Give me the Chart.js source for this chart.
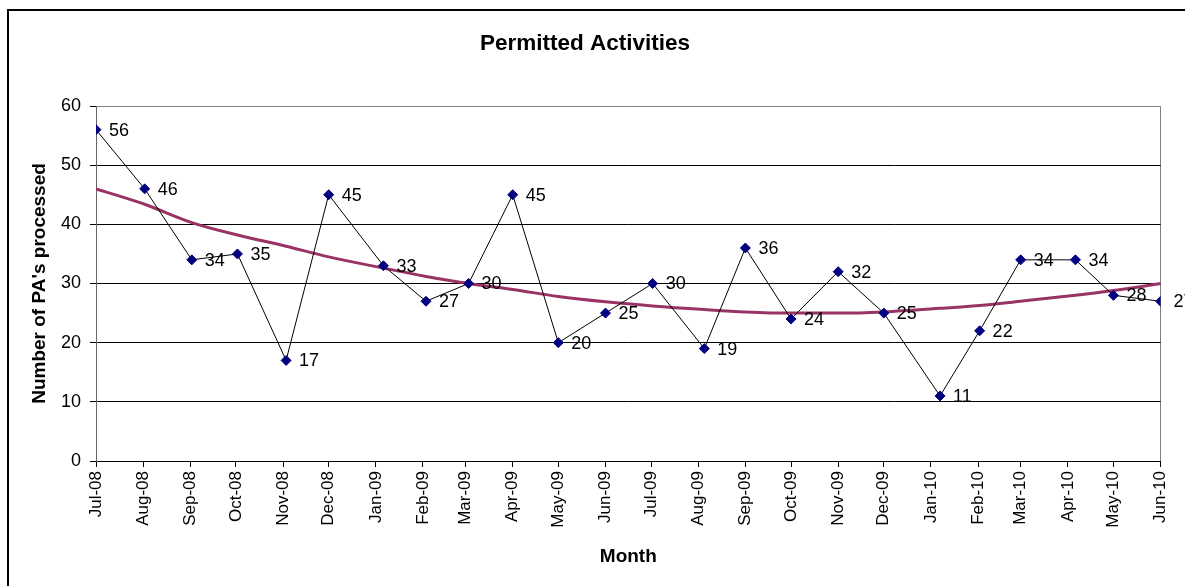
<!DOCTYPE html>
<html lang="en">
<head>
    <meta charset="UTF-8">
    <title>Permitted Activities</title>
    <script src="https://cdn.jsdelivr.net/npm/chart.js"></script>
    <style>
        html, body { margin: 0; padding: 0; background: #fff; }
        body { width: 1185px; height: 586px; overflow: hidden; position: relative; }
        /* outer chart frame, runs off the right and bottom edges */
        .frame {
            position: absolute; left: 7px; top: 9px;
            width: 1300px; height: 700px;
            border: 2px solid #000;
        }
        #chart { position: absolute; left: 0; top: 0; }
    </style>
</head>
<body>
    <div class="frame"></div>
    <canvas id="chart" width="1185" height="586"></canvas>

    <script>
        // month ticks on the date axis
        const monthLabels = ['Jul-08', 'Aug-08', 'Sep-08', 'Oct-08', 'Nov-08', 'Dec-08',
            'Jan-09', 'Feb-09', 'Mar-09', 'Apr-09', 'May-09', 'Jun-09',
            'Jul-09', 'Aug-09', 'Sep-09', 'Oct-09', 'Nov-09', 'Dec-09',
            'Jan-10', 'Feb-10', 'Mar-10', 'Apr-10', 'May-10', 'Jun-10'];
        const monthStarts = ['2008-07-01', '2008-08-01', '2008-09-01', '2008-10-01', '2008-11-01', '2008-12-01',
            '2009-01-01', '2009-02-01', '2009-03-01', '2009-04-01', '2009-05-01', '2009-06-01',
            '2009-07-01', '2009-08-01', '2009-09-01', '2009-10-01', '2009-11-01', '2009-12-01',
            '2010-01-01', '2010-02-01', '2010-03-01', '2010-04-01', '2010-05-01', '2010-06-01'];

        // dates the counts were recorded
        const pointDates = ['2008-07-01', '2008-08-02', '2008-09-02', '2008-10-02', '2008-11-03', '2008-12-01',
            '2009-01-06', '2009-02-03', '2009-03-03', '2009-04-01', '2009-05-01', '2009-06-01',
            '2009-07-02', '2009-08-05', '2009-09-01', '2009-10-01', '2009-11-01', '2009-12-01',
            '2010-01-07', '2010-02-02', '2010-03-01', '2010-04-06', '2010-05-01', '2010-06-01'];
        const processed = [56, 46, 34, 35, 17, 45, 33, 27, 30, 45, 20, 25,
            30, 19, 36, 24, 32, 25, 11, 22, 34, 34, 28, 27];
        // polynomial trend
        const trendValues = [46.0, 43.4, 40.3, 38.2, 36.3, 34.5, 32.6, 31.2, 30.0, 29.0, 27.8, 26.9,
            26.2, 25.6, 25.2, 25.0, 25.0, 25.2, 25.8, 26.3, 27.0, 28.0, 28.8, 30.0];
        const yTicks = [0, 10, 20, 30, 40, 50, 60];

        const dayOf = s => (Date.parse(s) - Date.parse(monthStarts[0])) / 864e5;
        const FONT = "'Liberation Sans', Arial, sans-serif";

        // value labels to the right of each marker
        const valueLabels = {
            id: 'valueLabels',
            afterDatasetsDraw(chart) {
                const meta = chart.getDatasetMeta(0);
                const ctx = chart.ctx;
                ctx.save();
                ctx.font = '18px ' + FONT;
                ctx.fillStyle = '#000';
                ctx.textAlign = 'left';
                ctx.textBaseline = 'middle';
                meta.data.forEach((pt, i) => {
                    ctx.fillText(String(processed[i]), pt.x + 13, pt.y + 1);
                });
                ctx.restore();
            }
        };

        new Chart(document.getElementById('chart'), {
            type: 'line',
            data: {
                datasets: [{
                    label: "PA's processed",
                    data: pointDates.map((d, i) => ({ x: dayOf(d), y: processed[i] })),
                    borderColor: '#000',
                    borderWidth: 1,
                    pointStyle: 'rectRot',
                    pointRadius: 5,
                    pointBackgroundColor: '#000080',
                    pointBorderColor: '#000080',
                    pointBorderWidth: 1,
                    tension: 0
                }, {
                    label: 'Trend',
                    data: pointDates.map((d, i) => ({ x: dayOf(d), y: trendValues[i] })),
                    borderColor: '#993366',
                    borderWidth: 3,
                    pointRadius: 0,
                    cubicInterpolationMode: 'monotone'
                }]
            },
            options: {
                responsive: false,
                animation: false,
                layout: { padding: { top: 0, left: 8, right: 23, bottom: 0 } },
                plugins: {
                    legend: { display: false },
                    tooltip: { enabled: false },
                    title: {
                        display: true,
                        text: 'Permitted Activities',
                        color: '#000',
                        font: { family: FONT, size: 22.5, weight: 'bold' },
                        padding: { top: 30, bottom: 49 }
                    }
                },
                scales: {
                    x: {
                        type: 'linear',
                        min: dayOf(monthStarts[0]),
                        max: dayOf(monthStarts[monthStarts.length - 1]),
                        afterBuildTicks: scale => {
                            scale.ticks = monthStarts.map(d => ({ value: dayOf(d) }));
                        },
                        afterFit: scale => { scale.height = 125; },
                        border: { color: '#000', width: 1 },
                        grid: {
                            color: c => (c.index === monthStarts.length - 1 ? '#808080' : 'rgba(0,0,0,0)'),
                            tickColor: '#000',
                            tickLength: 6
                        },
                        ticks: {
                            autoSkip: false,
                            minRotation: 90,
                            maxRotation: 90,
                            padding: 4,
                            color: '#000',
                            font: { family: FONT, size: 17 },
                            callback: (v, i) => monthLabels[i]
                        },
                        title: {
                            display: true,
                            text: 'Month',
                            color: '#000',
                            font: { family: FONT, size: 19, weight: 'bold' },
                            padding: { top: 0, bottom: 17.6 }
                        }
                    },
                    y: {
                        min: yTicks[0],
                        max: yTicks[yTicks.length - 1],
                        afterBuildTicks: scale => {
                            scale.ticks = yTicks.map(v => ({ value: v }));
                        },
                        afterFit: scale => { scale.width = 88; },
                        border: { color: '#666', width: 1 },
                        grid: {
                            color: c => (c.tick && c.tick.value === 60 ? '#808080' : '#000'),
                            tickColor: '#000',
                            tickLength: 6
                        },
                        ticks: {
                            padding: 9,
                            color: '#000',
                            font: { family: FONT, size: 18 }
                        },
                        title: {
                            display: true,
                            text: "Number of PA's processed",
                            color: '#000',
                            font: { family: FONT, size: 19, weight: 'bold' },
                            padding: { top: 20.6, bottom: 0 }
                        }
                    }
                }
            },
            plugins: [valueLabels]
        });
    </script>
</body>
</html>
